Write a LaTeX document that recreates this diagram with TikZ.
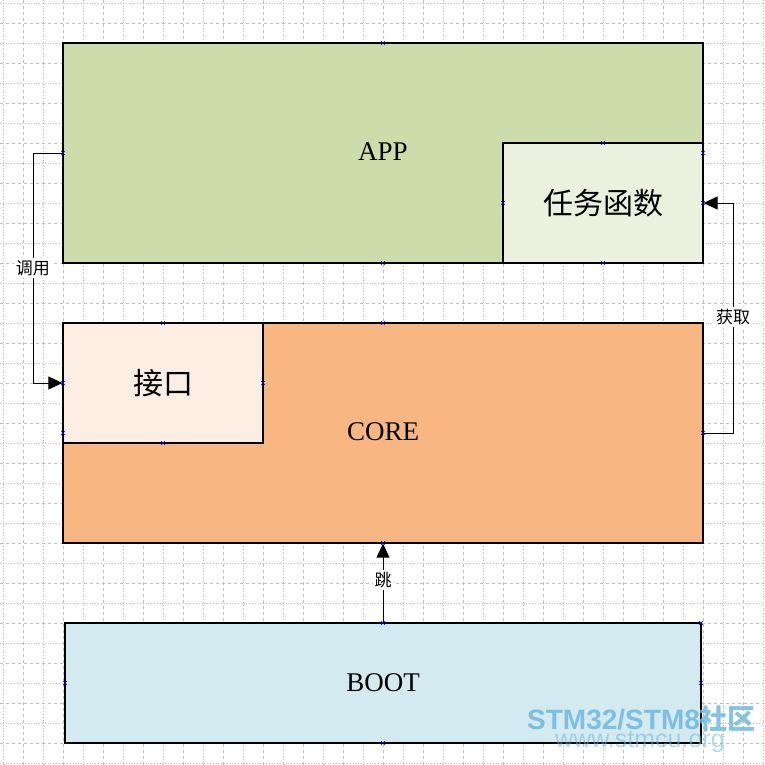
\documentclass[tikz,border=0pt]{standalone}
\usepackage{fontspec}
\setmainfont{Liberation Serif}
\newfontfamily\cjk{Noto Sans CJK SC}
\newfontfamily\wm{Liberation Sans}
\usetikzlibrary{arrows.meta}
\definecolor{appc}{HTML}{CCDCAA}
\definecolor{taskc}{HTML}{EBF1DE}
\definecolor{corec}{HTML}{F8B683}
\definecolor{ifc}{HTML}{FDEEE4}
\definecolor{bootc}{HTML}{D3EBF0}
\definecolor{wmc}{HTML}{6FB8E0}
\tikzset{box/.style={draw=black,line width=1.2pt},
 conn/.style={line width=0.8pt,-{Triangle[length=14pt,width=13pt]}},
 lbl/.style={fill=white,inner sep=2pt,font=\cjk\fontsize{17}{19}\selectfont},
 big/.style={font=\fontsize{27}{29}\selectfont},
 bigc/.style={font=\cjk\fontsize{30}{32}\selectfont},
 mk/.style={blue,line width=0.4pt}}
\newcommand{\xmk}[2]{\draw[mk] (#1-2,#2-2)--(#1+2,#2+2) (#1-2,#2+2)--(#1+2,#2-2);}
\begin{document}
\begin{tikzpicture}[x=1pt,y=-1pt]
\useasboundingbox (0,0) rectangle (764,765);
\foreach \i in {0,...,38}{
 \pgfmathsetmacro\p{3+20*\i}
 \ifodd\i
 \draw[gray!50,dashed,line width=0.8pt] (\p,0)--(\p,765) (0,\p)--(764,\p);
 \else
 \draw[gray!50,dotted,line width=0.8pt] (\p,0)--(\p,765) (0,\p)--(764,\p);
 \fi}
\node[box,fill=appc,minimum width=640pt,minimum height=220pt,inner sep=0pt] (app) at (383,153) {};
\node[big] (applbl) at (383,152) {APP};
\node[box,fill=taskc,minimum width=200pt,minimum height=120pt,bigc] (task) at (603,203) {任务函数};
\node[box,fill=corec,minimum width=640pt,minimum height=220pt,inner sep=0pt] (core) at (383,433) {};
\node[box,fill=ifc,minimum width=200pt,minimum height=120pt,bigc] (if) at (163,383) {接口};
\node[big] (corelbl) at (383,432) {CORE};
\node[box,fill=bootc,minimum width=636pt,minimum height=120pt,big] (boot) at (383,683) {BOOT};
\coordinate (l1) at (33,153); \coordinate (l2) at (33,383);
\coordinate (r1) at (733,433); \coordinate (r2) at (733,203);
\draw[conn] (app.west |- l1) -- (l1) -- (l2) -- (if.west);
\node[lbl] (ldy) at (33,268) {调用};
\draw[conn] (core.east |- r1) -- (r1) -- (r2) -- (task.east);
\node[lbl] (lhq) at (733,317) {获取};
\draw[conn] (boot.north) -- (core.south);
\node[lbl] (ltiao) at (383,580) {跳};
\foreach \a/\b in {383/43,63/153,703/153,383/263,603/143,503/203,703/203,603/263,163/323,383/323,63/383,263/383,63/433,703/433,163/443,383/543,383/623,65/683,701/683,383/743,701/623}{\xmk{\a}{\b}}
\node[wmc,opacity=0.85,font=\wm\bfseries\fontsize{28}{30}\selectfont,anchor=west,inner sep=0pt] (wm1) at (527,719) {STM32/STM8\cjk 社区};
\node[wmc,opacity=0.55,font=\wm\fontsize{25}{27}\selectfont,anchor=west,inner sep=0pt] (wm2) at (555,742) {www.stmcu.org};
\end{tikzpicture}
\end{document}
